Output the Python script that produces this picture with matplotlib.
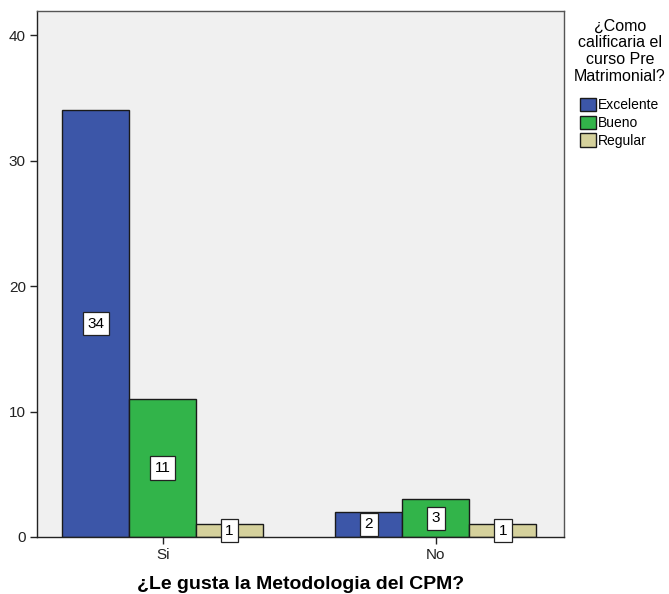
import numpy as np
import matplotlib.pyplot as plt

plt.rcParams['font.family'] = ['Liberation Sans', 'DejaVu Sans']

# data
categories = ['Si', 'No']
series_names = ['Excelente', 'Bueno', 'Regular']
excelente = [34, 2]
bueno = [11, 3]
regular = [1, 1]
colors = ['#3C56A8', '#32B44A', '#D5D19C']

fig = plt.figure(figsize=(6.69, 5.94), dpi=100)
ax = fig.add_axes([0.0553, 0.096, 0.788, 0.885])
ax.set_facecolor('#F0F0F0')

x = np.arange(len(categories))
width = 0.245
offsets = [-width, 0, width]
for vals, name, c, off in zip([excelente, bueno, regular], series_names, colors, offsets):
    bars = ax.bar(x + off, vals, width, color=c, edgecolor='#1a1a1a', linewidth=1,
                  label=name, zorder=2)
    for b, v in zip(bars, vals):
        ax.text(b.get_x() + b.get_width() / 2, v / 2, str(v), ha='center', va='center',
                fontsize=11, zorder=3,
                bbox=dict(boxstyle='square,pad=0.3', facecolor='white',
                          edgecolor='#222222', linewidth=0.9))

ax.set_xlim(-0.46, 1.47)
ax.set_ylim(0, 41.9)
ax.set_yticks([0, 10, 20, 30, 40])
ax.set_xticks(x)
ax.set_xticklabels(categories)
ax.tick_params(axis='both', labelsize=11, colors='#222222', length=5, width=1, pad=3)
for s in ax.spines.values():
    s.set_color('#555555')
    s.set_linewidth(1)
ax.spines['bottom'].set_color('#222222')
ax.spines['left'].set_color('#222222')

ax.set_xlabel('¿Le gusta la Metodologia del CPM?', fontsize=14, fontweight='bold', labelpad=10)

leg = ax.legend(title='¿Como\ncalificaria el\ncurso Pre\nMatrimonial?', loc='upper left',
                bbox_to_anchor=(1.0, 1.005), frameon=False, fontsize=10,
                title_fontsize=11.5, handlelength=1.1, handleheight=1.1,
                handletextpad=0.15, labelspacing=0.25, borderaxespad=0.3)
leg.get_title().set_multialignment('center')
leg.get_title().set_linespacing(1.15)
leg._legend_box.sep = 10

fig.savefig('out.png', dpi=100)
